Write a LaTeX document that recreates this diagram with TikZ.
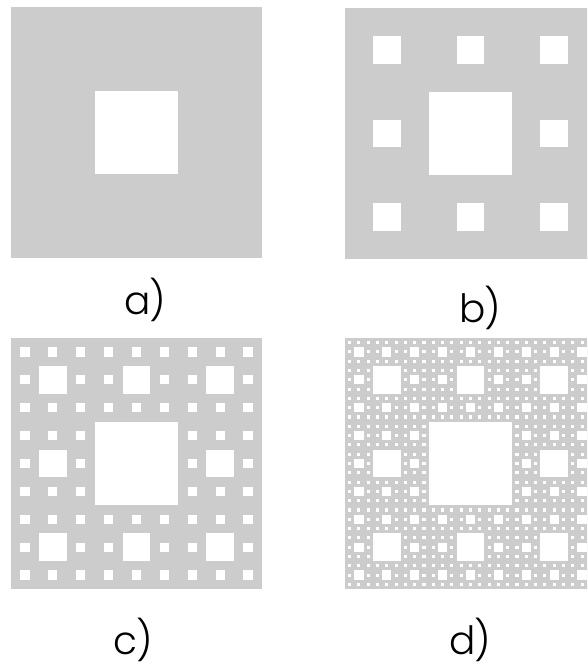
\documentclass[tikz,border=0pt]{standalone}
\usepackage{fontspec}
\setmainfont{Poppins}[UprightFont=* Light]
\usepackage{xcolor}
\usepackage{tikz}
\usetikzlibrary{positioning, calc}
\definecolor{carpetgray}{RGB}{204, 204, 204}

% carpet: x0, y0, size, depth
\newcommand{\sierpinski}[4]{%
  \fill[carpetgray] (#1,#2) rectangle ++(#3,#3);
  \foreach \k in {1,...,#4}{
    \pgfmathtruncatemacro{\nsub}{3^(\k-1)}
    \pgfmathtruncatemacro{\msub}{\nsub-1}
    \pgfmathsetmacro{\hole}{#3/(3*\nsub)}
    \foreach \i in {0,...,\msub}{
      \foreach \j in {0,...,\msub}{
        \fill[white] ({#1+(3*\i+1)*\hole},{#2+(3*\j+1)*\hole}) rectangle ++(\hole,\hole);
      }
    }
  }
}

\begin{document}
\begin{tikzpicture}[x=1pt, y=-1pt,
    lbl/.style={anchor=base, inner sep=0pt, font=\fontsize{39}{41}\selectfont}]
  \clip (0,0) rectangle (587,669);
  \fill[white] (0,0) rectangle (587,669);
  \sierpinski{11}{7}{251}{1}
  \sierpinski{345}{8}{251}{2}
  \sierpinski{11}{338}{251}{3}
  \sierpinski{345}{338}{251}{4}
  \node[lbl] (lblA) at (145,314) {a\kern-1pt)};
  \node[lbl] (lblB) at (480,322) {b\kern-1pt)};
  \node[lbl] (lblC) at (133,654) {c\kern-1pt)};
  \node[lbl] (lblD) at (470,654) {d\kern-1pt)};
\end{tikzpicture}
\end{document}
